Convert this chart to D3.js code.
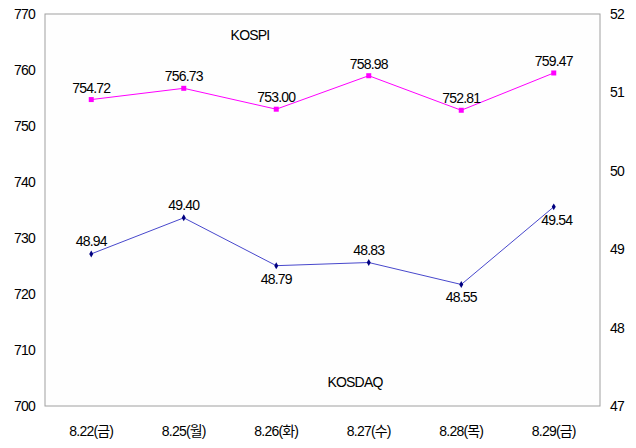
<!DOCTYPE html>
<html>
<head>
<meta charset="utf-8">
<script src="https://cdn.jsdelivr.net/npm/d3@7"></script>
<style>
  body { margin: 0; background: #fff; }
  svg text { font-family: Arial, "Liberation Sans", "Noto Sans CJK KR", sans-serif; letter-spacing: -0.8px; }
</style>
</head>
<body>
<div id="chart"></div>
<script>
const dates = ["8.22(금)", "8.25(월)", "8.26(화)", "8.27(수)", "8.28(목)", "8.29(금)"];
const kospi = [754.72, 756.73, 753.0, 758.98, 752.81, 759.47];
const kosdaq = [48.94, 49.4, 48.79, 48.83, 48.55, 49.54];
const leftTicks = [700, 710, 720, 730, 740, 750, 760, 770];
const rightTicks = [47, 48, 49, 50, 51, 52];
// where each KOSDAQ label sits relative to its point
const kosdaqLabelSide = ["up", "up", "down", "up", "down", "down"];

const W = 636, H = 448;
const box = { left: 45, right: 600, top: 14, bottom: 406 };

const svg = d3.select("#chart").append("svg")
  .attr("width", W).attr("height", H);

const x = d3.scaleBand().domain(dates).range([box.left, box.right]);
const yL = d3.scaleLinear().domain([700, 770]).range([box.bottom, box.top]);
const yR = d3.scaleLinear().domain([47, 52]).range([box.bottom, box.top]);
const cx = (d) => x(d) + x.bandwidth() / 2;

// plot frame
svg.append("rect")
  .attr("x", box.left).attr("y", box.top)
  .attr("width", box.right - box.left).attr("height", box.bottom - box.top)
  .attr("fill", "#fefefe").attr("stroke", "#a0a0a0").attr("stroke-width", 1);

// axes (labels only)
const leftAxis = svg.append("g").attr("transform", `translate(${box.left},0)`)
  .call(d3.axisLeft(yL).tickValues(leftTicks).tickSize(0).tickPadding(10).tickFormat(d3.format("d")));
const rightAxis = svg.append("g").attr("transform", `translate(${box.right},0)`)
  .call(d3.axisRight(yR).tickValues(rightTicks).tickSize(0).tickPadding(10).tickFormat(d3.format("d")));
const bottomAxis = svg.append("g").attr("transform", `translate(0,${box.bottom})`)
  .call(d3.axisBottom(x).tickSize(0).tickPadding(20));
[leftAxis, rightAxis, bottomAxis].forEach((g) => {
  g.select(".domain").remove();
  g.selectAll("text").attr("font-size", 14).attr("fill", "#000")
    .style("font-family", "Arial, 'Liberation Sans', 'Noto Sans CJK KR', sans-serif");
});

// KOSPI
svg.append("path")
  .datum(kospi)
  .attr("fill", "none").attr("stroke", "#ff00ff").attr("stroke-width", 1)
  .attr("d", d3.line().x((d, i) => cx(dates[i])).y((d) => yL(d)));
svg.append("g").selectAll("rect")
  .data(kospi).join("rect")
  .attr("x", (d, i) => cx(dates[i]) - 2.5).attr("y", (d) => yL(d) - 2.5)
  .attr("width", 5).attr("height", 5).attr("fill", "#ff00ff");
svg.append("g").selectAll("text")
  .data(kospi).join("text")
  .attr("x", (d, i) => cx(dates[i]))
  .attr("y", (d) => yL(d) - 7)
  .attr("text-anchor", "middle").attr("font-size", 14)
  .text((d) => d.toFixed(2));

// KOSDAQ
svg.append("path")
  .datum(kosdaq)
  .attr("fill", "none").attr("stroke", "#4848cc").attr("stroke-width", 1)
  .attr("d", d3.line().x((d, i) => cx(dates[i])).y((d) => yR(d)));
svg.append("g").selectAll("path")
  .data(kosdaq).join("path")
  .attr("transform", (d, i) => `translate(${cx(dates[i])},${yR(d)})`)
  .attr("d", d3.symbol(d3.symbolDiamond, 14))
  .attr("fill", "#000080");
svg.append("g").selectAll("text")
  .data(kosdaq).join("text")
  .attr("x", (d, i) => cx(dates[i]) + (i === 5 ? 3 : 0))
  .attr("y", (d, i) => kosdaqLabelSide[i] === "up" ? yR(d) - 8 : yR(d) + 18)
  .attr("text-anchor", "middle").attr("font-size", 14)
  .text((d) => d.toFixed(2));

// series names
svg.append("text").attr("x", 250).attr("y", 40)
  .attr("text-anchor", "middle").attr("font-size", 14).text("KOSPI");
svg.append("text").attr("x", 355).attr("y", 387)
  .attr("text-anchor", "middle").attr("font-size", 14).text("KOSDAQ");
</script>
</body>
</html>
